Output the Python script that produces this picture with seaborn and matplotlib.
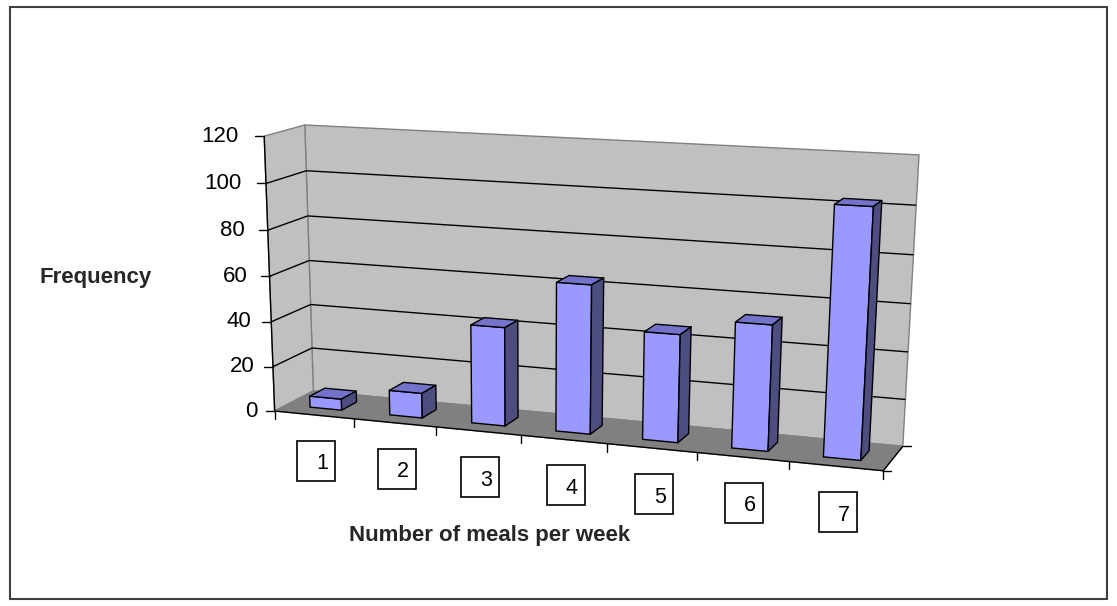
import numpy as np
import pandas as pd
import matplotlib
matplotlib.use("Agg")
import matplotlib.pyplot as plt
import matplotlib.transforms as mtransforms
from matplotlib.patches import Polygon, Rectangle
import seaborn as sns

# chart data
meals = ["1", "2", "3", "4", "5", "6", "7"]
frequency = [5, 11, 43, 64, 46, 53, 103]
y_ticks = [0, 20, 40, 60, 80, 100, 120]

W, H = 1117, 606

# corners of the 3d box (category x, value, depth) and where they sit in the picture
box_world = np.array([
    [-0.5, 0, 0], [6.5, 0, 0], [-0.5, 0, 1], [6.5, 0, 1],
    [-0.5, 120, 0], [-0.5, 120, 1], [6.5, 120, 1],
], dtype=float)
box_pixels = np.array([
    [275, 410], [883, 472], [313, 392], [903, 445],
    [264, 136], [305, 125], [919, 155],
], dtype=float)

BAR_FRONT, BAR_BACK = 0.3, 0.7


def fit_camera(world, pix):
    """Plain DLT fit of a perspective camera."""
    uv = (pix - [W / 2, H / 2]) / 500.0
    rows = []
    for (X, Y, Z), (u, v) in zip(world, uv):
        Y = Y / 100.0
        rows.append([X, Y, Z, 1, 0, 0, 0, 0, -u * X, -u * Y, -u * Z, -u])
        rows.append([0, 0, 0, 0, X, Y, Z, 1, -v * X, -v * Y, -v * Z, -v])
    _, _, vt = np.linalg.svd(np.array(rows))
    return vt[-1].reshape(3, 4)


CAM = fit_camera(box_world, box_pixels)


def project(x, v, d):
    x, v, d = np.broadcast_arrays(np.asarray(x, float), np.asarray(v, float),
                                  np.asarray(d, float))
    pts = np.stack([x.ravel(), v.ravel() / 100.0, d.ravel(), np.ones(x.size)])
    h = CAM @ pts
    u = h[0] / h[2] * 500 + W / 2
    w = h[1] / h[2] * 500 + H / 2
    return np.column_stack([u, H - w])  # display pixels, y up


class DepthProjection(mtransforms.Transform):
    """Maps (x, value) data at a fixed depth onto the perspective picture."""
    input_dims = 2
    output_dims = 2
    is_separable = False
    has_inverse = False

    def __init__(self, plane):
        super().__init__()
        self.plane = plane

    def transform_non_affine(self, values):
        values = np.asarray(values, dtype=float)
        return project(values[:, 0], values[:, 1], self.plane)


sns.set_theme(style="white")
plt.rcParams['font.family'] = ['Liberation Sans', 'DejaVu Sans']

fig = plt.figure(figsize=(W / 100, H / 100), dpi=100)
ax = fig.add_axes([0, 0, 1, 1])
ident = mtransforms.IdentityTransform()


def face(xs, vs, ds, color, edge, lw=1.0, z=1.0):
    pts = project(xs, vs, ds)
    poly = Polygon(pts, closed=True, facecolor=color, edgecolor=edge, lw=lw,
                   transform=ident, clip_on=False, zorder=z, joinstyle='round')
    ax.add_patch(poly)


def line(xs, vs, ds, color='black', lw=1.0, z=0.6):
    pts = project(xs, vs, ds)
    ax.plot(pts[:, 0], pts[:, 1], color=color, lw=lw, transform=ident,
            clip_on=False, zorder=z, solid_capstyle='butt')


x_lo, x_hi = -0.5, len(meals) - 0.5
top = y_ticks[-1]

# walls and floor
face([x_lo, x_hi, x_hi, x_lo], [0, 0, top, top], 1, '#C0C0C0', '#808080', z=0.3)
face(x_lo, [0, 0, top, top], [0, 1, 1, 0], '#C0C0C0', '#808080', z=0.3)
face([x_lo, x_hi, x_hi, x_lo], 0, [0, 0, 1, 1], '#808080', '#808080', z=0.35)

# gridlines on back and side wall
for v in y_ticks[1:-1]:
    line([x_lo, x_hi], v, 1)
    line(x_lo, v, [0, 1])

# axis lines
line(x_lo, [0, top], 0, z=0.7)
line([x_lo, x_hi], 0, 0, z=0.7)
line(x_hi, 0, [0, 1], z=0.7)

# value ticks and labels
for v in y_ticks:
    px, py = project(x_lo, v, 0)[0]
    ax.plot([px - 9, px], [py, py], color='black', lw=1, transform=ident, clip_on=False)
    ax.text(px - 17 - 0.075 * v, py, str(v), transform=ident, ha='right', va='center',
            fontsize=16, color='black')

# category ticks
for b in np.arange(x_lo, x_hi + 0.01, 1.0):
    px, py = project(b, 0, 0)[0]
    ax.plot([px, px], [py, py - 8], color='black', lw=1, transform=ident, clip_on=False)
for d in (0, 1):
    px, py = project(x_hi, 0, d)[0]
    ax.plot([px, px + 8], [py, py], color='black', lw=1, transform=ident, clip_on=False)

# bars
df = pd.DataFrame({'meals': meals, 'frequency': frequency})
sns.barplot(data=df, x='meals', y='frequency', color='#9999FF', saturation=1,
            width=0.4, edgecolor='black', linewidth=1, ax=ax)
front = DepthProjection(BAR_FRONT)
for p in list(ax.patches):
    if not isinstance(p, Rectangle):
        continue
    p.set_transform(front)
    p.set_clip_on(False)
    p.set_zorder(2)
    x0, w, h = p.get_x(), p.get_width(), p.get_height()
    x1 = x0 + w
    face([x0, x1, x1, x0], h, [BAR_FRONT, BAR_FRONT, BAR_BACK, BAR_BACK],
         '#7373CC', 'black', z=2)
    face(x1, [0, h, h, 0], [BAR_FRONT, BAR_FRONT, BAR_BACK, BAR_BACK],
         '#4D4D80', 'black', z=2)

# boxed category labels
for i, lab in enumerate(meals):
    cx, cy = project(i, 0, 0)[0] + np.array([2, -46])
    ax.add_patch(Rectangle((cx - 19, cy - 20), 38, 40, transform=ident, fill=False,
                           edgecolor='black', lw=1.2, clip_on=False))
    ax.text(cx + 6, cy - 3, lab, transform=ident, ha='center', va='center',
            fontsize=15.5, color='black')

ax.set_axis_off()

fig.text(96 / W, 1 - 277 / H, 'Frequency', ha='center', va='center',
         fontsize=16, fontweight='bold')
fig.text(489.5 / W, 1 - 536 / H, 'Number of meals per week', ha='center',
         va='center', fontsize=16, fontweight='bold')

# chart area border
fig.add_artist(Rectangle((10 / W, 1 - 599 / H), 1097 / W, 592 / H,
                         transform=fig.transFigure, fill=False,
                         edgecolor='#404040', lw=1.5))

fig.savefig('out.png', dpi=100)
